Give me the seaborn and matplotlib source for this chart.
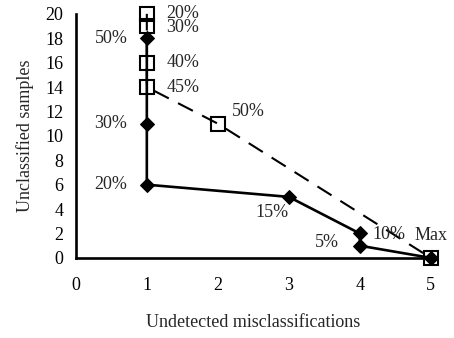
import matplotlib
matplotlib.use("Agg")
import matplotlib.pyplot as plt
import seaborn as sns
import pandas as pd

sns.set_theme(style="white")
plt.rcParams['font.family'] = ['Liberation Serif', 'DejaVu Serif']

# Diamond series (solid)
dia_x = [1, 1, 1, 3, 4, 4, 5]
dia_y = [18, 11, 6, 5, 2, 1, 0]
dia_labels = ["50%", "30%", "20%", "15%", "10%", "5%", ""]

# Square series (dashed)
sq_x = [1, 1, 1, 1, 2, 5]
sq_y = [20, 19, 16, 14, 11, 0]
sq_labels = ["20%", "30%", "40%", "45%", "50%", "Max"]

x_ticks = [0, 1, 2, 3, 4, 5]
y_ticks = list(range(0, 21, 2))

fig = plt.figure(figsize=(4.54, 3.38), dpi=100)
ax = fig.add_axes([0.167, 0.237, 0.782, 0.722])

d1 = pd.DataFrame({"x": dia_x, "y": dia_y})
d2 = pd.DataFrame({"x": sq_x, "y": sq_y})

sns.lineplot(data=d1, x="x", y="y", ax=ax, color="black", lw=1.9, sort=False,
             marker="D", markersize=7, markerfacecolor="black", markeredgecolor="black",
             estimator=None, zorder=2)
sns.lineplot(data=d2, x="x", y="y", ax=ax, color="black", lw=1.5, sort=False,
             estimator=None, zorder=3)
ax.lines[-1].set_dashes([8, 5])
ax.plot(sq_x, sq_y, ls="none", marker="s", markersize=10, markerfacecolor="none",
        markeredgecolor="black", markeredgewidth=1.5, zorder=4)

fs = 13
# diamond labels
dia_off = [(-14, 0, "right"), (-14, 0, "right"), (-14, 0, "right"), (0, -11, "right"),
           (9, -1, "left"), (-15, 2, "right"), (0, 0, "left")]
for x, y, t, (dx, dy, ha) in zip(dia_x, dia_y, dia_labels, dia_off):
    if t:
        ax.annotate(t, (x, y), xytext=(dx, dy), textcoords="offset points",
                    ha=ha, va="center", fontsize=fs)
sq_off = [(14, 0, "left"), (14, -1, "left"), (14, 0, "left"), (14, 0, "left"),
          (10, 9, "left"), (0, 16, "center")]
for x, y, t, (dx, dy, ha) in zip(sq_x, sq_y, sq_labels, sq_off):
    ax.annotate(t, (x, y), xytext=(dx, dy), textcoords="offset points",
                ha=ha, va="center", fontsize=fs)

ax.set_xlim(0, 5)
ax.set_ylim(0, 20)
ax.set_xticks(x_ticks)
ax.set_yticks(y_ticks)
ax.tick_params(axis="both", direction="out", length=4, width=1.5, color="black",
               labelsize=fs)
ax.tick_params(axis="x", pad=10)
ax.tick_params(axis="y", pad=5)
for s in ["top", "right"]:
    ax.spines[s].set_visible(False)
for s in ["left", "bottom"]:
    ax.spines[s].set_color("black")
    ax.spines[s].set_linewidth(1.9)
ax.set_xlabel("Undetected misclassifications", fontsize=fs, labelpad=14)
ax.set_ylabel("Unclassified samples", fontsize=fs, labelpad=8)
for t in ax.get_xticklabels() + ax.get_yticklabels():
    t.set_color("black")
for l in ax.lines:
    l.set_clip_on(False)

fig.savefig("out.png", dpi=100)
